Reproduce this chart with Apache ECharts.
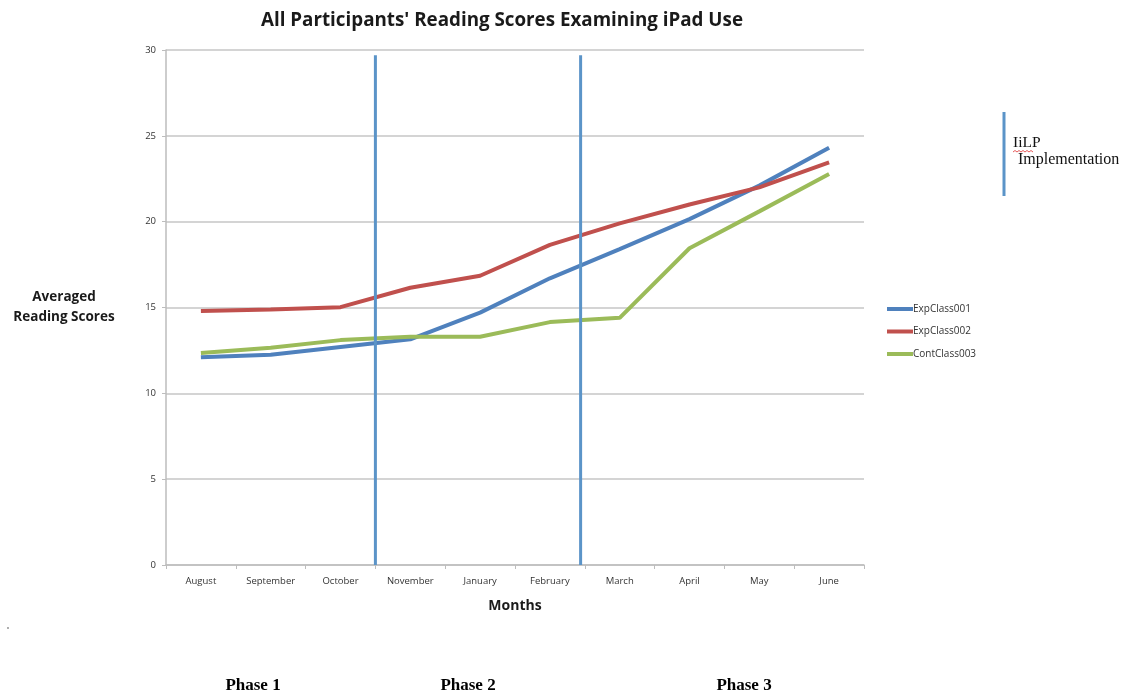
<!DOCTYPE html>
<html>
<head>
<meta charset="utf-8">
<script src="https://cdn.jsdelivr.net/npm/echarts@6/dist/echarts.min.js"></script>
<style>
  html, body { margin: 0; padding: 0; background: #ffffff; }
  #chart { width: 1125px; height: 698px; }
</style>
</head>
<body>
<div id="chart"></div>
<script>
// Months on the horizontal axis
const months = ['August', 'September', 'October', 'November', 'January', 'February', 'March', 'April', 'May', 'June'];

// Averaged reading scores per class
const expClass001 = [12.1, 12.25, 12.7, 13.15, 14.7, 16.7, 18.4, 20.15, 22.1, 24.3];
const expClass002 = [14.8, 14.88, 15.02, 16.15, 16.85, 18.65, 19.9, 21.0, 22.0, 23.45];
const contClass003 = [12.35, 12.65, 13.1, 13.3, 13.3, 14.15, 14.4, 18.45, 20.6, 22.78];

// Y axis ticks
const yTicks = [0, 5, 10, 15, 20, 25, 30];

// IiLP implementation markers (positions along the month axis, in month-band units)
const implementationAt = [3, 5.94];
const implementationTop = 29.7;

// Phase captions under the chart
const phases = ['Phase 1', 'Phase 2', 'Phase 3'];

const BLUE = '#4F81BD';
const RED = '#C0504D';
const GREEN = '#9BBB59';
const MARK_BLUE = '#5B94C8';

const chart = echarts.init(document.getElementById('chart'), null, { renderer: 'canvas' });

const classSeries = [
  { name: 'ExpClass001', data: expClass001, color: BLUE },
  { name: 'ExpClass002', data: expClass002, color: RED },
  { name: 'ContClass003', data: contClass003, color: GREEN }
].map(s => ({
  name: s.name,
  type: 'line',
  data: s.data,
  xAxisIndex: 0,
  showSymbol: false,
  symbol: 'none',
  lineStyle: { color: s.color, width: 4 },
  itemStyle: { color: s.color },
  z: 3
}));

const markerSeries = implementationAt.map((x, i) => ({
  name: 'IiLP ' + (i + 1),
  type: 'line',
  xAxisIndex: 1,
  data: [[x, 0], [x, implementationTop]],
  showSymbol: false,
  symbol: 'none',
  lineStyle: { color: MARK_BLUE, width: 3 },
  silent: true,
  z: 4
}));

const phaseX = [253, 468, 744];

chart.setOption({
  animation: false,
  backgroundColor: '#ffffff',
  title: {
    text: "All Participants' Reading Scores Examining iPad Use",
    left: 497,
    top: 6,
    textAlign: 'center',
    textStyle: {
      fontFamily: 'Open Sans',
      fontWeight: 'bold',
      fontSize: 18.8,
      color: '#1a1a1a'
    }
  },
  legend: {
    data: ['ExpClass001', 'ExpClass002', 'ContClass003'],
    orient: 'vertical',
    left: 882,
    top: 299,
    itemWidth: 26,
    itemHeight: 4,
    itemGap: 12.5,
    icon: 'rect',
    textStyle: { fontFamily: 'Open Sans', fontSize: 10, color: '#333', padding: [0, 0, 0, -5] }
  },
  grid: { left: 166, right: 261, top: 50, bottom: 133, containLabel: false, outerBoundsMode: 'none' },
  xAxis: [
    {
      type: 'category',
      data: months,
      boundaryGap: true,
      name: 'Months',
      nameLocation: 'middle',
      nameGap: 34,
      nameTextStyle: { fontFamily: 'Open Sans', fontWeight: 'bold', fontSize: 14, color: '#1a1a1a' },
      axisLine: { lineStyle: { color: '#bdbdbd', width: 1.5 } },
      axisTick: { show: true, alignWithLabel: false, length: 4, lineStyle: { color: '#bdbdbd' } },
      axisLabel: { fontFamily: 'Open Sans', fontSize: 9.5, color: '#333', margin: 11 },
      splitLine: { show: false }
    },
    {
      type: 'value',
      min: 0,
      max: months.length,
      show: false
    }
  ],
  yAxis: {
    type: 'value',
    min: yTicks[0],
    max: yTicks[yTicks.length - 1],
    interval: 5,
    name: 'Averaged\nReading Scores',
    nameLocation: 'middle',
    nameRotate: 0,
    nameGap: 102,
    nameTextStyle: { fontFamily: 'Open Sans', fontWeight: 'bold', fontSize: 13.5, color: '#1a1a1a', lineHeight: 20, align: 'center', padding: [0, 0, 9, 0] },
    axisLine: { show: true, lineStyle: { color: '#bdbdbd', width: 1.5 } },
    axisTick: { show: true, length: 4, lineStyle: { color: '#bdbdbd' } },
    axisLabel: { fontFamily: 'Open Sans', fontSize: 9.5, color: '#333', margin: 10 },
    splitLine: { show: true, lineStyle: { color: '#d4d4d4', width: 2 } }
  },
  series: classSeries.concat(markerSeries),
  graphic: [
    // IiLP implementation key
    {
      type: 'line',
      shape: { x1: 1004, y1: 112, x2: 1004, y2: 196 },
      style: { stroke: MARK_BLUE, lineWidth: 3 }
    },
    {
      type: 'text',
      left: 1013,
      top: 135,
      style: { text: 'IiLP', font: '15.5px "Liberation Serif"', fill: '#111' }
    },
    {
      type: 'polyline',
      shape: { points: [[1013, 152], [1015, 150.5], [1017, 152], [1019, 150.5], [1021, 152], [1023, 150.5], [1025, 152], [1027, 150.5], [1029, 152], [1031, 150.5], [1033, 152]] },
      style: { stroke: '#e03030', lineWidth: 0.8, fill: null }
    },
    {
      type: 'text',
      left: 1018,
      top: 152,
      style: { text: 'Implementation', font: '16px "Liberation Serif"', fill: '#111' }
    },
    {
      type: 'circle',
      shape: { cx: 8, cy: 628, r: 0.9 },
      style: { fill: '#888' }
    }
  ].concat(phases.map((p, i) => ({
    type: 'text',
    x: phaseX[i],
    y: 686,
    style: {
      text: p,
      font: 'bold 17px "Liberation Serif"',
      fill: '#000',
      align: 'center',
      verticalAlign: 'middle'
    }
  })))
});
</script>
</body>
</html>
